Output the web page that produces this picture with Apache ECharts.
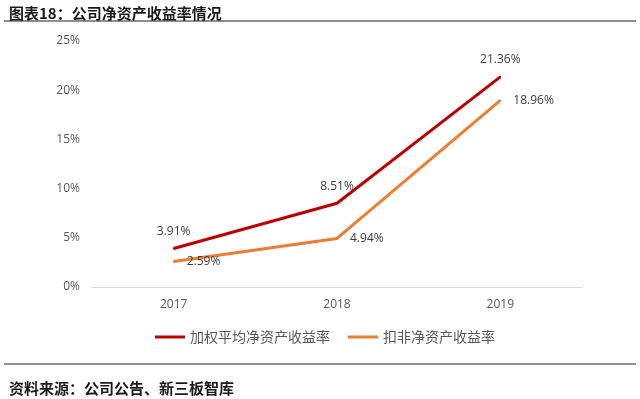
<!DOCTYPE html>
<html>
<head>
<meta charset="utf-8">
<script src="https://cdn.jsdelivr.net/npm/echarts@6/dist/echarts.min.js"></script>
<style>
  html, body { margin: 0; padding: 0; background: #fff; }
  #chart { width: 640px; height: 399px; }
</style>
</head>
<body>
<div id="chart"></div>
<script>
const years = ['2017', '2018', '2019'];
const weightedRoe = [3.91, 8.51, 21.36];
const deductedRoe = [2.59, 4.94, 18.96];
const yTicks = [0, 5, 10, 15, 20, 25];

const chart = echarts.init(document.getElementById('chart'));
const cjk = '"Noto Sans CJK SC", sans-serif';
const num = '"Open Sans", "Liberation Sans", sans-serif';

chart.setOption({
  animation: false,
  backgroundColor: '#fff',
  title: [{
    text: '图表18：公司净资产收益率情况',
    left: 4, top: 1,
    textStyle: { fontFamily: cjk, fontSize: 15, fontWeight: 'bold', color: '#1a1a1a' }
  }, {
    text: '资料来源：公司公告、新三板智库',
    left: 4, top: 376,
    textStyle: { fontFamily: cjk, fontSize: 15, fontWeight: 'bold', color: '#1a1a1a' }
  }],
  graphic: [
    { type: 'line', shape: { x1: 4, y1: 21, x2: 636, y2: 21 }, style: { stroke: '#222', lineWidth: 1.2 } },
    { type: 'line', shape: { x1: 4, y1: 364, x2: 636, y2: 364 }, style: { stroke: '#222', lineWidth: 1.2 } }
  ],
  legend: {
    top: 325,
    left: 150,
    itemWidth: 30,
    itemHeight: 3,
    itemGap: 18,
    icon: 'rect',
    textStyle: { fontFamily: cjk, fontSize: 14, color: '#595959' },
    data: ['加权平均净资产收益率', '扣非净资产收益率']
  },
  grid: { left: 92, right: 58, top: 41, bottom: 112 },
  xAxis: {
    type: 'category',
    data: years,
    axisLine: { lineStyle: { color: '#d9d9d9' } },
    axisTick: { show: false },
    axisLabel: { fontFamily: num, fontSize: 12, color: '#595959', margin: 12 }
  },
  yAxis: {
    type: 'value',
    min: yTicks[0],
    max: yTicks[yTicks.length - 1],
    interval: 5,
    splitLine: { show: false },
    axisLine: { show: false },
    axisTick: { show: false },
    axisLabel: { fontFamily: num, fontSize: 12, color: '#595959', margin: 12, formatter: v => v + '%' }
  },
  series: [{
    name: '加权平均净资产收益率',
    type: 'line',
    data: weightedRoe,
    symbol: 'circle',
    symbolSize: 2,
    showSymbol: true,
    color: '#c00000',
    itemStyle: { color: '#c00000' },
    lineStyle: { width: 3, color: '#c00000' },
    label: {
      show: true, position: 'top', distance: 10,
      fontFamily: num, fontSize: 12, color: '#404040',
      formatter: p => p.value.toFixed(2) + '%'
    }
  }, {
    name: '扣非净资产收益率',
    type: 'line',
    data: deductedRoe,
    symbol: 'circle',
    symbolSize: 2,
    showSymbol: true,
    color: '#ed7d31',
    itemStyle: { color: '#ed7d31' },
    lineStyle: { width: 3, color: '#ed7d31' },
    label: {
      show: true, position: 'right', distance: 12,
      fontFamily: num, fontSize: 12, color: '#404040',
      formatter: p => p.value.toFixed(2) + '%'
    }
  }]
});
</script>
</body>
</html>
